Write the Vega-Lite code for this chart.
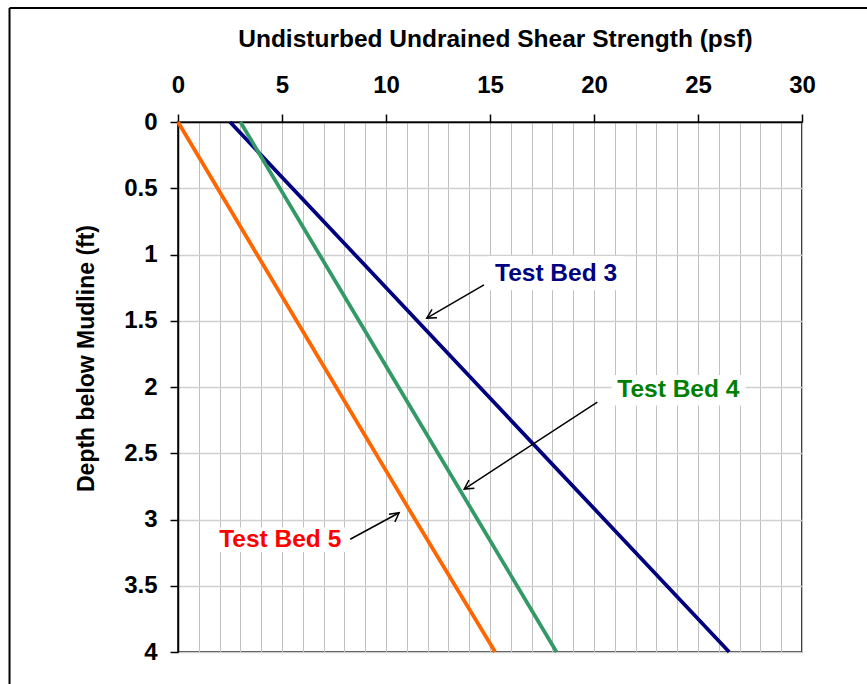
{
  "$schema": "https://vega.github.io/schema/vega-lite/v6.json",
  "width": 624,
  "height": 530,
  "autosize": {"type": "none"},
  "padding": {"left": 178, "top": 122, "right": 65, "bottom": 32},
  "background": "white",
  "config": {
    "font": "Liberation Sans",
    "view": {"stroke": "black", "strokeWidth": 1.5}
  },
  "datasets": {
    "lines": [
      {"bed": "Test Bed 3", "depth": 0, "strength": 2.5},
      {"bed": "Test Bed 3", "depth": 1, "strength": 8.5},
      {"bed": "Test Bed 3", "depth": 2, "strength": 14.5},
      {"bed": "Test Bed 3", "depth": 3, "strength": 20.5},
      {"bed": "Test Bed 3", "depth": 4, "strength": 26.5},
      {"bed": "Test Bed 4", "depth": 0, "strength": 3.0},
      {"bed": "Test Bed 4", "depth": 1, "strength": 6.8},
      {"bed": "Test Bed 4", "depth": 2, "strength": 10.6},
      {"bed": "Test Bed 4", "depth": 3, "strength": 14.4},
      {"bed": "Test Bed 4", "depth": 4, "strength": 18.2},
      {"bed": "Test Bed 5", "depth": 0, "strength": 0},
      {"bed": "Test Bed 5", "depth": 1, "strength": 3.8},
      {"bed": "Test Bed 5", "depth": 2, "strength": 7.6},
      {"bed": "Test Bed 5", "depth": 3, "strength": 11.4},
      {"bed": "Test Bed 5", "depth": 4, "strength": 15.25}
    ],
    "labels": [
      {"label": "Test Bed 3", "textStrength": 15.24, "textDepth": 1.198, "boxLeft": 14.95, "boxRight": 21.4, "boxTop": 1.012, "boxBottom": 1.27},
      {"label": "Test Bed 4", "textStrength": 21.12, "textDepth": 2.078, "boxLeft": 20.85, "boxRight": 27.3, "boxTop": 1.91, "boxBottom": 2.14},
      {"label": "Test Bed 5", "textStrength": 1.98, "textDepth": 3.205, "boxLeft": 1.9, "boxRight": 8.2, "boxTop": 3.06, "boxBottom": 3.245}
    ],
    "arrows": [
      {"label": "Test Bed 3", "fromStrength": 14.71, "fromDepth": 1.23, "toStrength": 11.96, "toDepth": 1.48},
      {"label": "Test Bed 4", "fromStrength": 20.16, "fromDepth": 2.115, "toStrength": 13.76, "toDepth": 2.77},
      {"label": "Test Bed 5", "fromStrength": 8.28, "fromDepth": 3.149, "toStrength": 10.63, "toDepth": 2.949}
    ]
  },
  "layer": [
    {
      "data": {"name": "labels"},
      "mark": {"type": "rect", "fill": "white", "strokeWidth": 0},
      "encoding": {
        "x": {
          "field": "boxLeft", "type": "quantitative",
          "scale": {"domain": [0, 30], "nice": false, "zero": false},
          "axis": {
            "orient": "bottom",
            "values": [0,1,2,3,4,5,6,7,8,9,10,11,12,13,14,15,16,17,18,19,20,21,22,23,24,25,26,27,28,29,30],
            "grid": true, "gridColor": "#c0c0c0", "gridWidth": 1,
            "labels": false, "ticks": false, "domain": false, "title": null
          }
        },
        "x2": {"field": "boxRight"},
        "y": {
          "field": "boxTop", "type": "quantitative",
          "scale": {"domain": [0, 4], "reverse": true, "nice": false, "zero": false},
          "axis": {
            "orient": "right",
            "values": [0, 0.5, 1, 1.5, 2, 2.5, 3, 3.5, 4],
            "grid": true, "gridColor": "#d0d0d0", "gridWidth": 1.5,
            "labels": false, "ticks": false, "domain": false, "title": null
          }
        },
        "y2": {"field": "boxBottom"}
      }
    },
    {
      "data": {"name": "lines"},
      "mark": {"type": "line", "strokeWidth": 3.75},
      "encoding": {
        "x": {
          "field": "strength", "type": "quantitative",
          "scale": {"domain": [0, 30], "nice": false, "zero": false},
          "axis": {
            "orient": "top",
            "values": [0, 5, 10, 15, 20, 25, 30],
            "format": "d",
            "grid": false,
            "domain": true, "domainColor": "black", "domainWidth": 1.5,
            "ticks": true, "tickColor": "black", "tickSize": 8, "tickWidth": 1.5,
            "labelFont": "Liberation Sans", "labelFontSize": 24, "labelFontWeight": "bold", "labelColor": "black",
            "labelBaseline": "alphabetic", "labelPadding": 22, "labelFlush": false, "labelOverlap": false,
            "title": "Undisturbed Undrained Shear Strength (psf)",
            "titleFont": "Liberation Sans", "titleFontSize": 24.5, "titleFontWeight": "bold", "titleColor": "black",
            "titleX": 317, "titleY": -76, "titleAlign": "center", "titleBaseline": "alphabetic", "titleAngle": 0
          }
        },
        "y": {
          "field": "depth", "type": "quantitative",
          "scale": {"domain": [0, 4], "reverse": true, "nice": false, "zero": false},
          "axis": {
            "orient": "left",
            "values": [0, 0.5, 1, 1.5, 2, 2.5, 3, 3.5, 4],
            "format": "~g",
            "grid": false,
            "domain": true, "domainColor": "black", "domainWidth": 1.5,
            "ticks": true, "tickColor": "black", "tickSize": 8, "tickWidth": 1.5,
            "labelFont": "Liberation Sans", "labelFontSize": 24, "labelFontWeight": "bold", "labelColor": "black",
            "labelAlign": "right", "labelBaseline": "middle", "labelPadding": 13, "labelFlush": false, "labelOverlap": false,
            "title": "Depth below Mudline (ft)",
            "titleFont": "Liberation Sans", "titleFontSize": 23, "titleFontWeight": "bold", "titleColor": "black",
            "titleAngle": 270, "titleX": -85, "titleY": 236, "titleAlign": "center", "titleBaseline": "alphabetic"
          }
        },
        "stroke": {
          "field": "bed", "type": "nominal",
          "scale": {"domain": ["Test Bed 3", "Test Bed 4", "Test Bed 5"], "range": ["#000080", "#339966", "#FF6600"]},
          "legend": null
        },
        "order": {"field": "depth", "type": "quantitative"}
      }
    },
    {
      "data": {"name": "arrows"},
      "mark": {"type": "rule", "color": "black", "strokeWidth": 1.5},
      "encoding": {
        "x": {"field": "fromStrength", "type": "quantitative", "scale": {"domain": [0, 30], "nice": false, "zero": false}, "axis": null},
        "y": {"field": "fromDepth", "type": "quantitative", "scale": {"domain": [0, 4], "reverse": true, "nice": false, "zero": false}, "axis": null},
        "x2": {"field": "toStrength"},
        "y2": {"field": "toDepth"}
      }
    },
    {
      "data": {"name": "arrows"},
      "transform": [{"filter": "datum.label === 'Test Bed 3'"}],
      "mark": {"type": "point", "shape": "M-1,-0.55L0,0L-1,0.55", "filled": false, "stroke": "black", "strokeWidth": 1.5, "size": 320, "angle": 149.8, "opacity": 1},
      "encoding": {
        "x": {"field": "toStrength", "type": "quantitative", "scale": {"domain": [0, 30], "nice": false, "zero": false}, "axis": null},
        "y": {"field": "toDepth", "type": "quantitative", "scale": {"domain": [0, 4], "reverse": true, "nice": false, "zero": false}, "axis": null}
      }
    },
    {
      "data": {"name": "arrows"},
      "transform": [{"filter": "datum.label === 'Test Bed 4'"}],
      "mark": {"type": "point", "shape": "M-1,-0.55L0,0L-1,0.55", "filled": false, "stroke": "black", "strokeWidth": 1.5, "size": 320, "angle": 146.8, "opacity": 1},
      "encoding": {
        "x": {"field": "toStrength", "type": "quantitative", "scale": {"domain": [0, 30], "nice": false, "zero": false}, "axis": null},
        "y": {"field": "toDepth", "type": "quantitative", "scale": {"domain": [0, 4], "reverse": true, "nice": false, "zero": false}, "axis": null}
      }
    },
    {
      "data": {"name": "arrows"},
      "transform": [{"filter": "datum.label === 'Test Bed 5'"}],
      "mark": {"type": "point", "shape": "M-1,-0.55L0,0L-1,0.55", "filled": false, "stroke": "black", "strokeWidth": 1.5, "size": 320, "angle": 323.2, "opacity": 1},
      "encoding": {
        "x": {"field": "toStrength", "type": "quantitative", "scale": {"domain": [0, 30], "nice": false, "zero": false}, "axis": null},
        "y": {"field": "toDepth", "type": "quantitative", "scale": {"domain": [0, 4], "reverse": true, "nice": false, "zero": false}, "axis": null}
      }
    },
    {
      "data": {"name": "labels"},
      "mark": {"type": "text", "align": "left", "baseline": "alphabetic", "font": "Liberation Sans", "fontSize": 24.5, "fontWeight": "bold"},
      "encoding": {
        "x": {"field": "textStrength", "type": "quantitative", "scale": {"domain": [0, 30], "nice": false, "zero": false}, "axis": null},
        "y": {"field": "textDepth", "type": "quantitative", "scale": {"domain": [0, 4], "reverse": true, "nice": false, "zero": false}, "axis": null},
        "text": {"field": "label", "type": "nominal"},
        "fill": {
          "field": "label", "type": "nominal",
          "scale": {"domain": ["Test Bed 3", "Test Bed 4", "Test Bed 5"], "range": ["#000080", "#008000", "#FF0000"]},
          "legend": null
        }
      }
    },
    {
      "data": {"values": [{}]},
      "mark": {"type": "rule", "color": "black", "strokeWidth": 2},
      "encoding": {
        "x": {"datum": -8.1, "type": "quantitative", "scale": {"domain": [0, 30], "nice": false, "zero": false}, "axis": null},
        "y": {"datum": -0.86, "type": "quantitative", "scale": {"domain": [0, 4], "reverse": true, "nice": false, "zero": false}, "axis": null},
        "y2": {"datum": 5}
      }
    },
    {
      "data": {"values": [{}]},
      "mark": {"type": "rule", "color": "black", "strokeWidth": 2},
      "encoding": {
        "x": {"datum": -8.1, "type": "quantitative", "scale": {"domain": [0, 30], "nice": false, "zero": false}, "axis": null},
        "x2": {"datum": 40},
        "y": {"datum": -0.86, "type": "quantitative", "scale": {"domain": [0, 4], "reverse": true, "nice": false, "zero": false}, "axis": null}
      }
    }
  ],
  "resolve": {"axis": {"x": "independent", "y": "independent"}}
}
